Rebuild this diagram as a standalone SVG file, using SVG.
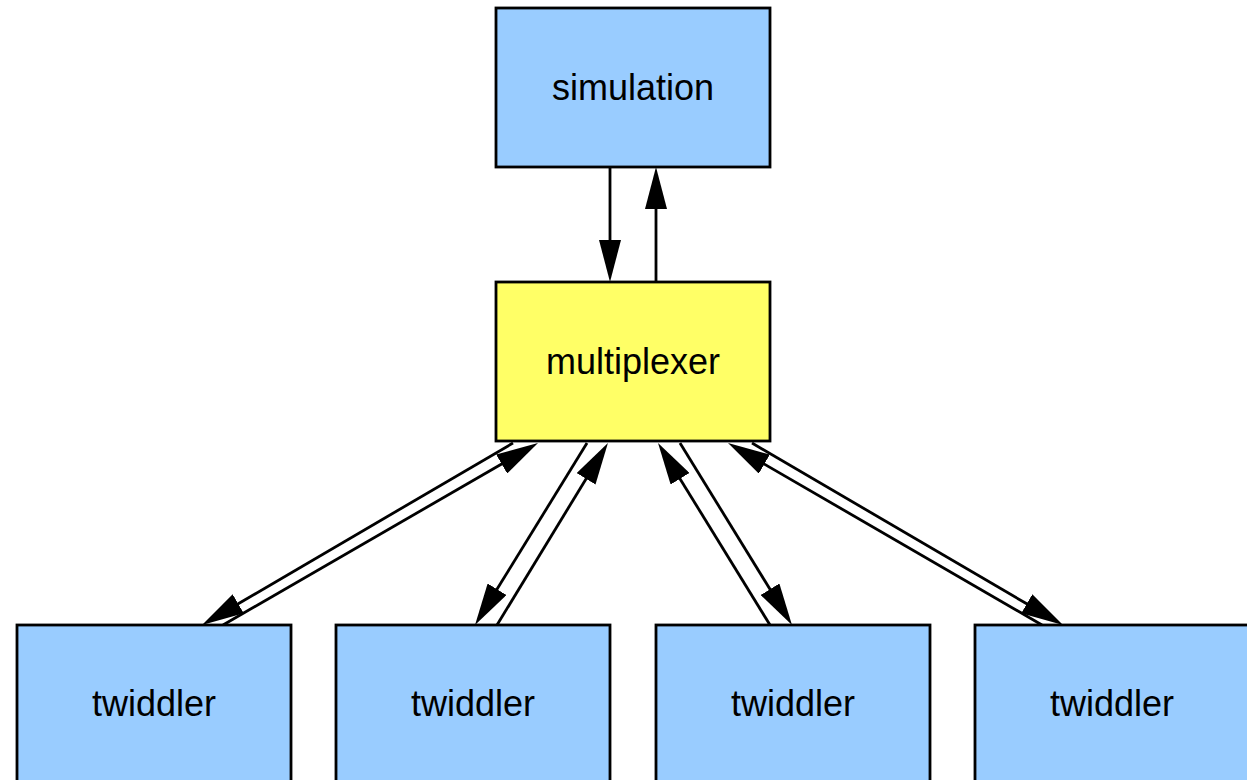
<svg xmlns="http://www.w3.org/2000/svg" width="1247" height="780" viewBox="0 0 1247 780">
  <style>
    .node rect { stroke: #000; stroke-width: 2.8; }
    .blue rect { fill: #99ccff; }
    .yellow rect { fill: #ffff66; }
    .node text { font-family: "Liberation Sans", Arial, Helvetica, sans-serif; font-size: 36px; fill: #000; text-anchor: middle; }
    .edges line { stroke: #000; stroke-width: 2.8; fill: none; marker-end: url(#arrow); }
  </style>
  <defs>
    <marker id="arrow" viewBox="0 0 42 22" markerWidth="42" markerHeight="22" refX="1" refY="11" orient="auto" markerUnits="userSpaceOnUse">
      <path d="M0,0 L42,11 L0,22 z" fill="#000"/>
    </marker>
  </defs>

  <rect width="1247" height="780" fill="#fff"/>

  <g class="edges">
    <!-- simulation <-> multiplexer -->
    <line x1="610" y1="167" x2="610" y2="241"/>
    <line x1="656" y1="282" x2="656" y2="208"/>
    <!-- multiplexer <-> twiddler 1 -->
    <line x1="513" y1="443" x2="237.4" y2="604.3"/>
    <line x1="223" y1="625" x2="502.5" y2="463.5"/>
    <!-- multiplexer <-> twiddler 2 -->
    <line x1="587" y1="443" x2="496.5" y2="590.1"/>
    <line x1="497" y1="625" x2="586.6" y2="478"/>
    <!-- multiplexer <-> twiddler 3 -->
    <line x1="770" y1="625" x2="679.5" y2="477.9"/>
    <line x1="680" y1="443" x2="770.5" y2="590.1"/>
    <!-- multiplexer <-> twiddler 4 -->
    <line x1="1042" y1="625" x2="763.5" y2="463.6"/>
    <line x1="752" y1="443" x2="1027.6" y2="604.3"/>
  </g>

  <g id="simulation" class="node blue">
    <rect x="496" y="8" width="274" height="159"/>
    <text x="633" y="100">simulation</text>
  </g>
  <g id="multiplexer" class="node yellow">
    <rect x="496" y="282" width="274" height="159"/>
    <text x="633" y="374">multiplexer</text>
  </g>
  <g id="twiddler1" class="node blue">
    <rect x="17" y="625" width="274" height="159"/>
    <text x="154" y="716">twiddler</text>
  </g>
  <g id="twiddler2" class="node blue">
    <rect x="336" y="625" width="274" height="159"/>
    <text x="473" y="716">twiddler</text>
  </g>
  <g id="twiddler3" class="node blue">
    <rect x="656" y="625" width="274" height="159"/>
    <text x="793" y="716">twiddler</text>
  </g>
  <g id="twiddler4" class="node blue">
    <rect x="975" y="625" width="274" height="159"/>
    <text x="1112" y="716">twiddler</text>
  </g>
</svg>
